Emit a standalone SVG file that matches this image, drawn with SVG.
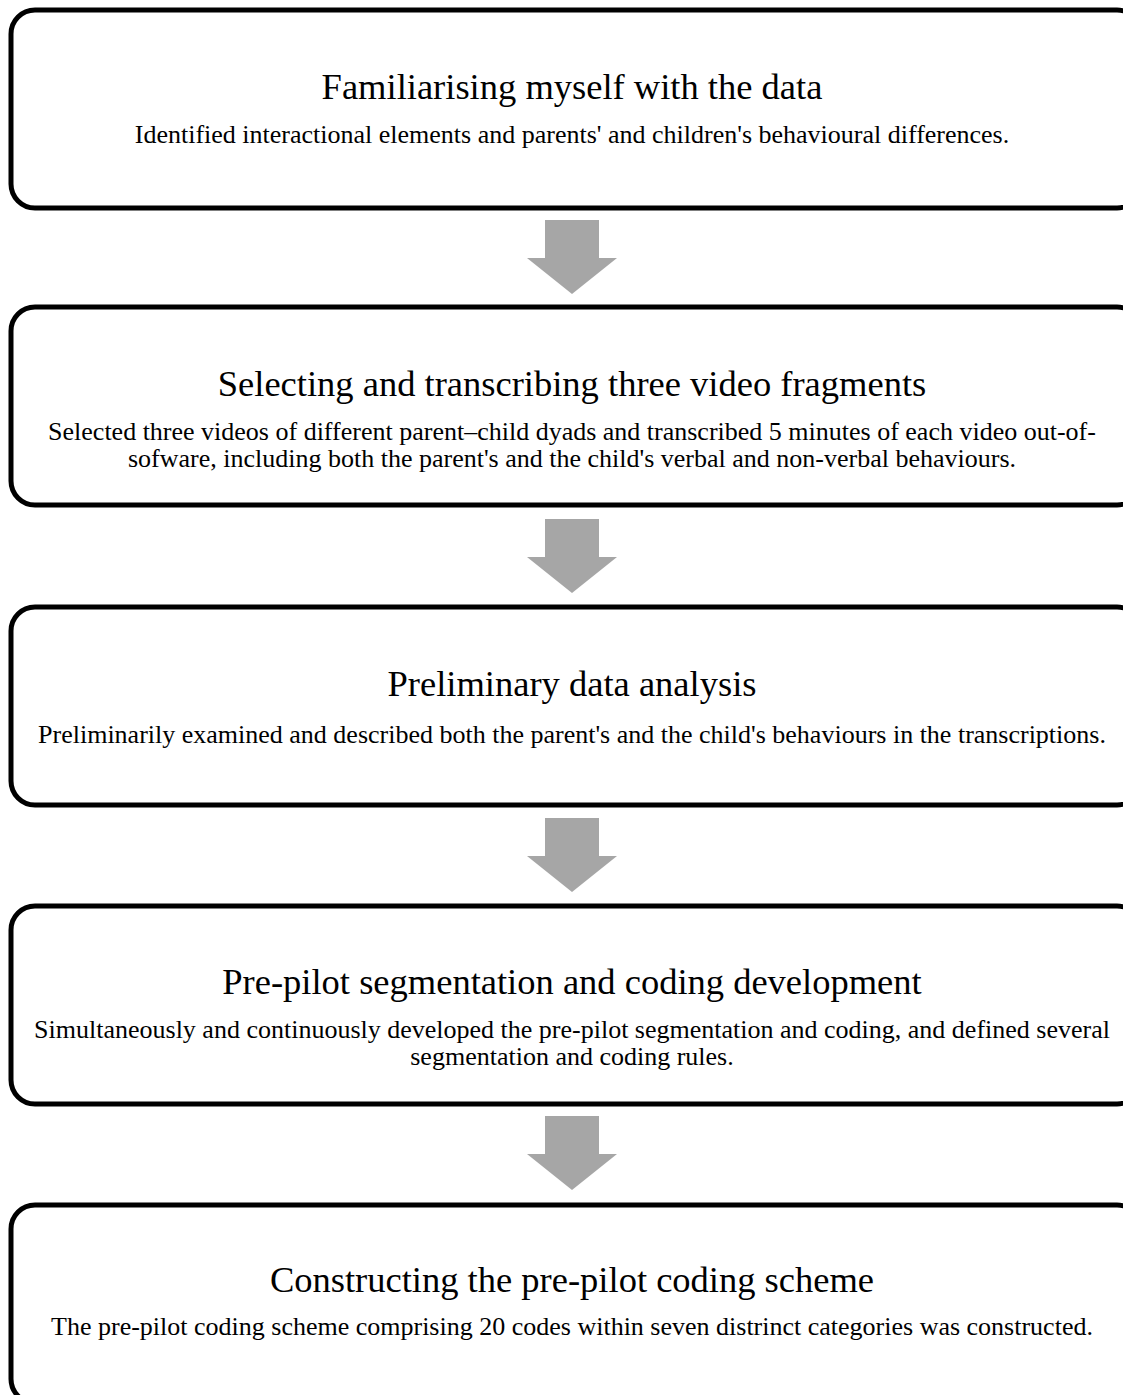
<svg xmlns="http://www.w3.org/2000/svg" width="1123" height="1395" viewBox="0 0 1123 1395">
<defs>
<style>
.box{fill:#ffffff;stroke:#000000;stroke-width:5}
.t{font-family:"Liberation Serif","Times New Roman",serif;font-size:36.5px;fill:#000;text-anchor:middle}
.s{font-family:"Liberation Serif","Times New Roman",serif;font-size:26px;fill:#000;text-anchor:middle}
.arr{fill:#a6a6a6}
</style>
<path id="arrow" class="arr" d="M-27,0 H27 V38 H45 L0,74 L-45,38 H-27 Z"/>
</defs>
<rect width="1123" height="1395" fill="#ffffff"/>
<g id="connectors">
<use href="#arrow" x="572" y="220"/>
<use href="#arrow" x="572" y="519"/>
<use href="#arrow" x="572" y="818"/>
<use href="#arrow" x="572" y="1116"/>
</g>
<g id="node1">
<rect class="box" x="11" y="10" width="1130" height="198" rx="24" ry="24"/>
<text class="t" x="572" y="99">Familiarising myself with the data</text>
<text class="s" x="572" y="143">Identified interactional elements and parents' and children's behavioural differences.</text>
</g>
<g id="node2">
<rect class="box" x="11" y="307" width="1130" height="198" rx="24" ry="24"/>
<text class="t" x="572" y="396">Selecting and transcribing three video fragments</text>
<text class="s" x="572" y="440">Selected three videos of different parent–child dyads and transcribed 5 minutes of each video out-of-</text>
<text class="s" x="572" y="467">sofware, including both the parent's and the child's verbal and non-verbal behaviours.</text>
</g>
<g id="node3">
<rect class="box" x="11" y="607" width="1130" height="198" rx="24" ry="24"/>
<text class="t" x="572" y="696">Preliminary data analysis</text>
<text class="s" x="572" y="743">Preliminarily examined and described both the parent's and the child's behaviours in the transcriptions.</text>
</g>
<g id="node4">
<rect class="box" x="11" y="906" width="1130" height="198" rx="24" ry="24"/>
<text class="t" x="572" y="994">Pre-pilot segmentation and coding development</text>
<text class="s" x="572" y="1038">Simultaneously and continuously developed the pre-pilot segmentation and coding, and defined several</text>
<text class="s" x="572" y="1065">segmentation and coding rules.</text>
</g>
<g id="node5">
<rect class="box" x="11" y="1205" width="1130" height="198" rx="24" ry="24"/>
<text class="t" x="572" y="1292">Constructing the pre-pilot coding scheme</text>
<text class="s" x="572" y="1335">The pre-pilot coding scheme comprising 20 codes within seven distrinct categories was constructed.</text>
</g>
</svg>
